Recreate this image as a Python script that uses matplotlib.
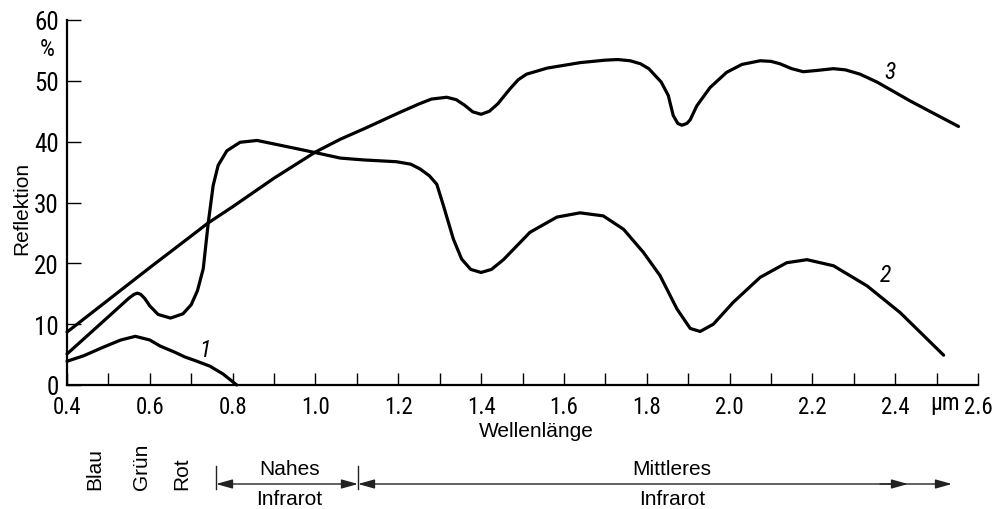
import numpy as np
import matplotlib
matplotlib.use("Agg")
import matplotlib.pyplot as plt
from matplotlib import font_manager
from matplotlib.patches import FancyArrowPatch
from matplotlib.lines import Line2D

# ---------------- data ----------------
wl1 = [0.40, 0.44, 0.487, 0.53, 0.565, 0.60, 0.625, 0.66, 0.685, 0.71, 0.745, 0.777, 0.81]
r1 = [3.9, 4.8, 6.2, 7.4, 8.0, 7.4, 6.4, 5.4, 4.6, 4.0, 3.1, 1.8, 0.0]

wl2 = [0.40, 0.48, 0.55, 0.562, 0.57, 0.578, 0.588, 0.60, 0.62, 0.65, 0.68, 0.70, 0.715, 0.729,
       0.741, 0.753, 0.765, 0.786, 0.818, 0.859, 0.93, 1.00, 1.06, 1.116, 1.196,
       1.23, 1.253, 1.275, 1.293, 1.309, 1.333, 1.353, 1.375, 1.40, 1.425, 1.454,
       1.518, 1.583, 1.639, 1.695, 1.744, 1.792, 1.832, 1.873, 1.905, 1.929, 1.961,
       2.009, 2.074, 2.138, 2.187, 2.251, 2.332, 2.412, 2.517]
r2 = [5.1, 10.0, 14.3, 14.9, 15.1, 14.9, 14.2, 13.0, 11.6, 11.0, 11.7, 13.2, 15.5, 19.1,
      26.6, 32.8, 36.1, 38.5, 39.9, 40.2, 39.2, 38.2, 37.3, 37.0, 36.7,
      36.3, 35.5, 34.4, 33.0, 29.5, 24.0, 20.7, 19.0, 18.5, 19.0, 20.6,
      25.1, 27.6, 28.3, 27.8, 25.6, 21.8, 18.0, 12.5, 9.3, 8.8, 10.0,
      13.6, 17.7, 20.1, 20.6, 19.6, 16.3, 11.9, 4.9]

wl3 = [0.40, 0.50, 0.60, 0.70, 0.74, 0.80, 0.90, 1.00, 1.06, 1.12, 1.20, 1.25,
       1.28, 1.317, 1.34, 1.36, 1.38, 1.40, 1.42, 1.44, 1.47, 1.49, 1.51, 1.56,
       1.64, 1.70, 1.73, 1.76, 1.785, 1.805, 1.82, 1.835, 1.852, 1.864, 1.875,
       1.885, 1.897, 1.905, 1.921, 1.953, 1.993, 2.03, 2.074, 2.10, 2.122, 2.15,
       2.178, 2.21, 2.251, 2.28, 2.315, 2.356, 2.40, 2.436, 2.50, 2.553]
r3 = [8.7, 14.0, 19.3, 24.5, 26.6, 29.3, 34.0, 38.3, 40.4, 42.2, 44.7, 46.2,
      47.0, 47.3, 46.9, 46.0, 44.9, 44.5, 45.0, 46.2, 48.7, 50.2, 51.1, 52.1,
      53.0, 53.4, 53.5, 53.3, 52.8, 52.0, 50.9, 49.8, 47.6, 44.3, 43.0,
      42.7, 43.0, 43.6, 45.9, 48.9, 51.4, 52.7, 53.3, 53.2, 52.8, 52.0,
      51.5, 51.7, 52.0, 51.8, 51.1, 49.8, 48.1, 46.7, 44.4, 42.5]

curve_labels = ["1", "2", "3"]
curve_label_pos = [(0.733, 5.9), (2.376, 18.2), (2.388, 51.6)]

y_ticks = [0, 10, 20, 30, 40, 50, 60]
x_ticks = [0.4, 0.5, 0.6, 0.7, 0.8, 0.9, 1.0, 1.1, 1.2, 1.3, 1.4, 1.5, 1.6,
           1.7, 1.8, 1.9, 2.0, 2.1, 2.2, 2.3, 2.4, 2.5, 2.6]
x_ticklabels = ["0.4", "", "0.6", "", "0.8", "", "1.0", "", "1.2", "", "1.4", "",
                "1.6", "", "1.8", "", "2.0", "", "2.2", "", "2.4", "", "2.6"]

# ---------------- fonts ----------------
available = {f.name for f in font_manager.fontManager.ttflist}
narrow = "DejaVu Sans"
for cand in ["Liberation Sans Narrow", "Roboto Condensed", "DejaVu Sans Condensed",
             "Open Sans Condensed", "Noto Sans Condensed"]:
    if cand in available:
        narrow = cand
        break
sans = "Liberation Sans" if "Liberation Sans" in available else "DejaVu Sans"
plt.rcParams["font.family"] = [sans, "DejaVu Sans"]

W, H = 993, 510
fig = plt.figure(figsize=(W / 100, H / 100), dpi=100)
fig.patch.set_facecolor("white")


def fx(px):
    return px / W


def fy(py):
    return 1 - py / H


ax = fig.add_axes([fx(67), fy(386), fx(978) - fx(67), fy(21) - fy(386)])
ax.set_xlim(0.4, 2.6)
ax.set_ylim(0, 60)
for s in ["top", "right"]:
    ax.spines[s].set_visible(False)
for s in ["left", "bottom"]:
    ax.spines[s].set_linewidth(1.6)
    ax.spines[s].set_color("black")

lw = 2.3
for wl, r in [(wl1, r1), (wl2, r2), (wl3, r3)]:
    ax.plot(wl, r, color="black", lw=lw, solid_joinstyle="round", solid_capstyle="round",
            clip_on=False)

for lab, (xx, yy) in zip(curve_labels, curve_label_pos):
    ax.text(xx, yy, lab, fontsize=17, fontstyle="italic", family=[narrow, "DejaVu Sans"],
            ha="center", va="center")

ax.set_yticks(y_ticks)
ax.set_yticklabels([str(v) for v in y_ticks], family=[narrow, "DejaVu Sans"], fontsize=18)
ax.tick_params(axis="y", direction="in", length=10, width=1.0, pad=6)
ax.set_xticks(x_ticks)
ax.set_xticklabels(x_ticklabels, family=[narrow, "DejaVu Sans"], fontsize=16.5)
ax.tick_params(axis="x", direction="in", length=9, width=1.0, pad=7)

# unit labels
ax.text(2.52, -0.047, "µm", transform=ax.get_xaxis_transform(), ha="center", va="center",
        fontsize=17, family=[narrow, "DejaVu Sans"])
fig.text(fx(47), fy(49), "%", ha="center", va="center", fontsize=17,
         family=[narrow, "DejaVu Sans"])

# axis titles
fig.text(fx(536), fy(432), "Wellenlänge", ha="center", va="center", fontsize=15)
fig.text(fx(22), fy(208), "Reflektion", ha="center", va="center", fontsize=15, rotation=90)

# colour band labels
for lab, xp in [("Blau", 95), ("Grün", 141), ("Rot", 182)]:
    fig.text(fx(xp), fy(490), lab, ha="center", va="bottom", rotation=90, fontsize=15)

fig.text(fx(290), fy(470), "Nahes", ha="center", va="center", fontsize=15)
fig.text(fx(289), fy(500), "Infrarot", ha="center", va="center", fontsize=15)
fig.text(fx(672), fy(470), "Mittleres", ha="center", va="center", fontsize=15)
fig.text(fx(672), fy(500), "Infrarot", ha="center", va="center", fontsize=15)

# range arrows
arrow_col = "#222222"
ya = 485
for xb in [216, 358]:
    fig.add_artist(Line2D([fx(xb), fx(xb)], [fy(467), fy(490)], color=arrow_col, lw=1.0,
                          transform=fig.transFigure))


def arrow(x0, x1, style):
    fig.add_artist(FancyArrowPatch((fx(x0), fy(ya)), (fx(x1), fy(ya)),
                                   transform=fig.transFigure,
                                   arrowstyle=style + ",head_length=10,head_width=2.8",
                                   mutation_scale=1, shrinkA=0, shrinkB=0,
                                   color=arrow_col, lw=1.0))


arrow(216, 358, "<|-|>")
arrow(358, 952, "<|-|>")
arrow(880, 908, "-|>")

fig.savefig("out.png", dpi=100, facecolor="white")
